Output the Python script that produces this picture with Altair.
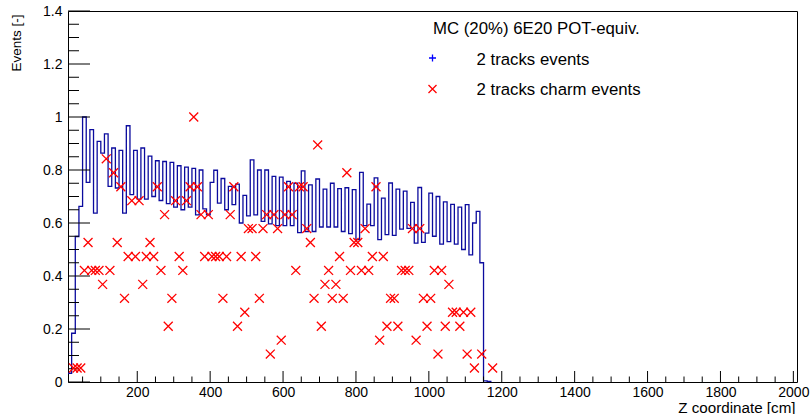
import altair as alt
import pandas as pd
import numpy as np

# ---------------- data ----------------
# histogram "2 tracks events": 10 cm bins, left edges 10,20,...,1160
hist_first_edge = 10
hist_bin_width = 10
events = [
    0.033, 0.184, 0.549, 0.663, 1.000, 0.753, 0.952, 0.637, 0.908, 0.864,   # 10..100
    0.936, 0.738, 0.883, 0.732, 0.874, 0.637, 0.967, 0.707, 0.874, 0.690,   # 110..200
    0.883, 0.690, 0.852, 0.700, 0.835, 0.685, 0.832, 0.673, 0.829, 0.660,   # 210..300
    0.816, 0.650, 0.811, 0.660, 0.806, 0.631, 0.800, 0.653, 0.631, 0.753,   # 310..400
    0.799, 0.675, 0.768, 0.650, 0.738, 0.669, 0.747, 0.600, 0.704, 0.627,   # 410..500
    0.838, 0.631, 0.800, 0.606, 0.800, 0.597, 0.776, 0.590, 0.773, 0.590,   # 510..600
    0.757, 0.590, 0.750, 0.564, 0.797, 0.568, 0.744, 0.568, 0.766, 0.585,   # 610..700
    0.728, 0.585, 0.750, 0.585, 0.730, 0.568, 0.733, 0.560, 0.726, 0.537,   # 710..800
    0.791, 0.590, 0.671, 0.590, 0.770, 0.537, 0.694, 0.556, 0.751, 0.553,   # 810..900
    0.728, 0.577, 0.720, 0.580, 0.678, 0.524, 0.734, 0.527, 0.562, 0.713,   # 910..1000
    0.550, 0.700, 0.520, 0.680, 0.530, 0.670, 0.520, 0.660, 0.500, 0.669,   # 1010..1100
    0.480, 0.600, 0.644, 0.450, 0.004, 0.002,                               # 1110..1160
]

# "2 tracks charm events": bin left edge (cm) and count (normalised by max 19)
charm_bins = [
    20, 30, 40, 50, 60, 70, 80, 90, 100, 110, 120, 130, 140, 150, 160, 170, 180, 190, 200,
    210, 220, 230, 240, 250, 260, 270, 280, 290, 300, 310, 320, 330, 340, 350, 360, 370,
    380, 390, 400, 410, 420, 430, 440, 450, 460, 470, 480, 490, 500, 510, 520, 530, 540,
    550, 560, 570, 580, 590, 600, 610, 620, 630, 640, 650, 660, 670, 680, 690, 700, 710,
    720, 730, 740, 750, 760, 770, 780, 790, 800, 810, 820, 830, 840, 850, 860, 870, 880,
    890, 900, 910, 920, 930, 940, 950, 960, 970, 980, 990, 1000, 1010, 1020, 1030, 1040,
    1050, 1060, 1070, 1080, 1090, 1100, 1110, 1120, 1140, 1170,
]
charm_counts = [
    1, 1, 1, 8, 10, 8, 8, 8, 7, 16, 8, 15, 10, 14, 6, 9, 13, 9, 13,
    7, 9, 10, 9, 14, 8, 12, 4, 6, 13, 9, 8, 13, 14, 19, 14, 12,
    9, 12, 9, 9, 9, 6, 9, 12, 14, 4, 9, 5, 11, 11, 9, 6, 11,
    12, 2, 12, 11, 3, 12, 14, 12, 8, 14, 14, 11, 10, 6, 17, 4, 7,
    8, 6, 7, 9, 6, 15, 8, 10, 10, 8, 11, 8, 9, 14, 3, 9, 4,
    6, 6, 4, 8, 8, 8, 11, 3, 11, 6, 4, 6, 8, 2, 8, 4,
    7, 5, 5, 4, 5, 2, 5, 1, 2, 1,
]
charm_max = 19

x_ticks = [200, 400, 600, 800, 1000, 1200, 1400, 1600, 1800, 2000]
y_ticks = [0, 0.2, 0.4, 0.6, 0.8, 1.0, 1.2, 1.4]

legend_header = "MC (20%) 6E20 POT-equiv."
legend_labels = ["2 tracks events", "2 tracks charm events"]
x_title = "Z coordinate [cm]"
y_title = "Events [-]"

# ---------------- build tables ----------------
edges = [hist_first_edge + i * hist_bin_width for i in range(len(events))]
hist_df = pd.DataFrame({"z": edges + [edges[-1] + hist_bin_width],
                        "v": events + [0.0]})
charm_df = pd.DataFrame({"z": [b + hist_bin_width / 2 for b in charm_bins],
                         "v": [c / charm_max for c in charm_counts]})

W, H = 729, 371
FONT = "Liberation Sans"
xscale = alt.Scale(domain=[10, 2010], nice=False, zero=False)
yscale = alt.Scale(domain=[0, 1.4], nice=False)

x_axis = alt.Axis(values=x_ticks, format="d", ticks=False, domain=False, grid=False,
                  labelFont=FONT, labelFontSize=14, labelColor="black", labelPadding=3,
                  title=x_title, titleFont=FONT, titleFontSize=15.2, titleFontWeight="normal",
                  titleColor="black", titleAlign="right", titleAnchor="end",
                  titleX=W - 2, titleY=30, titleBaseline="alphabetic")
y_axis = alt.Axis(values=y_ticks, format="~g", ticks=False, domain=False, grid=False,
                  labelFont=FONT, labelFontSize=14, labelColor="black", labelPadding=6,
                  title=y_title, titleFont=FONT, titleFontSize=13.5, titleFontWeight="normal",
                  titleColor="black", titleAngle=-90, titleAlign="right",
                  titleBaseline="top", titleX=-59, titleY=3)

hist = alt.Chart(hist_df).mark_line(interpolate="step-after", color="#0b0b9e",
                                    strokeWidth=1.3).encode(
    x=alt.X("z:Q", scale=xscale, axis=x_axis),
    y=alt.Y("v:Q", scale=yscale, axis=y_axis),
)

xmark = "M-1,-1L1,1M-1,1L1,-1"
plusmark = "M-1,0L1,0M0,-1L0,1"
charm = alt.Chart(charm_df).mark_point(shape=xmark, filled=False, color="#ff0000",
                                       strokeWidth=1.3, size=80, opacity=1).encode(
    x=alt.X("z:Q", scale=xscale),
    y=alt.Y("v:Q", scale=yscale),
)

# inward ticks (ROOT style)
xmaj = pd.DataFrame({"t": x_ticks})
xmin = pd.DataFrame({"t": [t for t in np.arange(50, 2010, 50) if t % 200 != 0]})
ymaj = pd.DataFrame({"t": y_ticks})
ymin = pd.DataFrame({"t": [round(t, 2) for t in np.arange(0.05, 1.4, 0.05)
                           if round(t * 100) % 20 != 0]})

xmaj_r = alt.Chart(xmaj).mark_rule(color="black", strokeWidth=1).encode(
    x=alt.X("t:Q", scale=xscale), y=alt.value(H), y2=alt.value(H - 11))
xmin_r = alt.Chart(xmin).mark_rule(color="black", strokeWidth=1).encode(
    x=alt.X("t:Q", scale=xscale), y=alt.value(H), y2=alt.value(H - 5.5))
ymaj_r = alt.Chart(ymaj).mark_rule(color="black", strokeWidth=1).encode(
    y=alt.Y("t:Q", scale=yscale), x=alt.value(0), x2=alt.value(22))
ymin_r = alt.Chart(ymin).mark_rule(color="black", strokeWidth=1).encode(
    y=alt.Y("t:Q", scale=yscale), x=alt.value(0), x2=alt.value(11))

# legend (drawn as text + symbols)
LEG_FS = 16.8
hdr = alt.Chart(pd.DataFrame({"t": [legend_header]})).mark_text(
    align="left", baseline="alphabetic", font=FONT, fontSize=LEG_FS, color="black").encode(
    text="t:N", x=alt.value(433 - 68), y=alt.value(34 - 11))
lab_df = pd.DataFrame({"t": legend_labels, "yy": [64.5 - 11, 95 - 11]})
labs = alt.Chart(lab_df).mark_text(
    align="left", baseline="alphabetic", font=FONT, fontSize=LEG_FS, color="black").encode(
    text="t:N", x=alt.value(476.5 - 68), y=alt.Y("yy:Q", scale=None))
sym_plus = alt.Chart(pd.DataFrame({"a": [0]})).mark_point(
    shape=plusmark, filled=False, color="#0000ff", strokeWidth=1.3, size=49, opacity=1).encode(
    x=alt.value(432.5 - 68), y=alt.value(58 - 11))
sym_x = alt.Chart(pd.DataFrame({"a": [0]})).mark_point(
    shape=xmark, filled=False, color="#ff0000", strokeWidth=1.3, size=64, opacity=1).encode(
    x=alt.value(432.5 - 68), y=alt.value(89 - 11))

chart = alt.layer(
    hist, ymaj_r, ymin_r, xmaj_r, xmin_r, charm, hdr, labs, sym_plus, sym_x
).properties(
    width=W, height=H,
    autosize=alt.AutoSizeParams(type="none"),
    padding={"left": 68, "top": 11, "right": 13, "bottom": 32},
    background="white",
).configure_view(stroke="black", strokeWidth=1)

chart.save("out.html", embed_options={"renderer": "svg", "actions": False})
